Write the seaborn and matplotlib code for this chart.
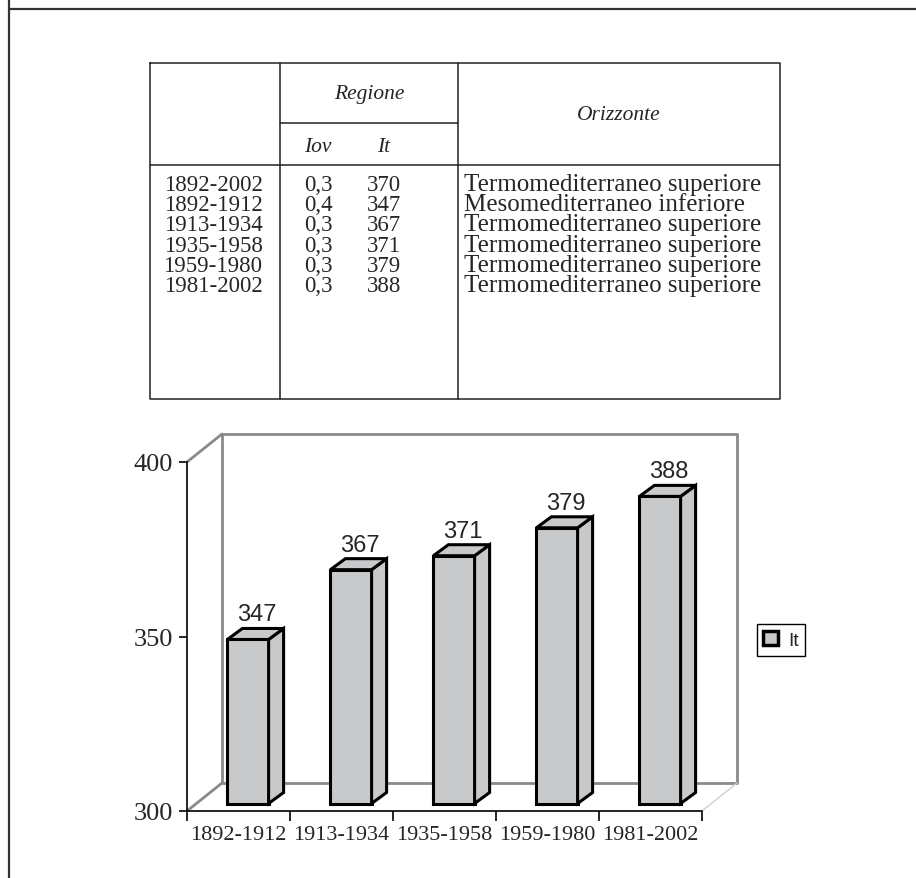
import matplotlib
matplotlib.use("Agg")
import matplotlib.pyplot as plt
import seaborn as sns
import pandas as pd
import numpy as np
from matplotlib.patches import Polygon, Patch
from matplotlib.lines import Line2D
from matplotlib.transforms import IdentityTransform, ScaledTranslation

# ---------------- data ----------------
table_periods = ["1892-2002", "1892-1912", "1913-1934", "1935-1958", "1959-1980", "1981-2002"]
table_iov = ["0,3", "0,4", "0,3", "0,3", "0,3", "0,3"]
table_it = [370, 347, 367, 371, 379, 388]
table_orizzonte = ["Termomediterraneo superiore", "Mesomediterraneo inferiore",
                   "Termomediterraneo superiore", "Termomediterraneo superiore",
                   "Termomediterraneo superiore", "Termomediterraneo superiore"]
header_group = "Regione"
header_cols = ["Iov", "It"]
header_oriz = "Orizzonte"

chart_periods = ["1892-1912", "1913-1934", "1935-1958", "1959-1980", "1981-2002"]
chart_it = [347, 367, 371, 379, 388]
y_ticks = [300, 350, 400]
series_label = "It"

# ---------------- style ----------------
sns.set_style("white")
plt.rcParams["font.family"] = ["Liberation Serif", "DejaVu Serif"]
SANS = ["Liberation Sans", "DejaVu Sans"]
BAR = "#C8C9CB"
WALL = "#8A8A8A"
LINE = "#222222"

W, H = 916, 879
fig = plt.figure(figsize=(W / 100, H / 100), dpi=100)

# overlay in pixel coordinates for the page frame and the table
ov = fig.add_axes([0, 0, 1, 1])
ov.set_xlim(0, W)
ov.set_ylim(H, 0)
ov.axis("off")
ov.set_zorder(1)

ov.plot([9, 9], [0, H], color="#333333", lw=1.6, clip_on=False)
ov.plot([9, W], [10, 10], color="#333333", lw=1.6, clip_on=False)

# table grid
tl, tr, tt, tb = 150, 780, 64, 400
c1, c2 = 280, 458
lw_t = 1.1
ov.plot([tl, tr, tr, tl, tl], [tt, tt, tb, tb, tt], color=LINE, lw=lw_t)
ov.plot([c1, c1], [tt, tb], color=LINE, lw=lw_t)
ov.plot([c2, c2], [tt, tb], color=LINE, lw=lw_t)
ov.plot([c1, c2], [124, 124], color=LINE, lw=lw_t)
ov.plot([tl, tr], [166, 166], color=LINE, lw=lw_t)

fs_h = 15.5
fs_t = 16.5
fs_o = 18
ov.text((c1 + c2) / 2, 94, header_group, style="italic", ha="center", va="center", fontsize=fs_h)
ov.text(619, 116, header_oriz, style="italic", ha="center", va="center", fontsize=fs_h)
ov.text(318, 147, header_cols[0], style="italic", ha="center", va="center", fontsize=fs_h)
ov.text(384, 147, header_cols[1], style="italic", ha="center", va="center", fontsize=fs_h)
for i, (p, iv, it, oz) in enumerate(zip(table_periods, table_iov, table_it, table_orizzonte)):
    y = 191 + i * 20.2
    ov.text(213, y, p, ha="center", va="baseline", fontsize=fs_t)
    ov.text(318, y, iv, ha="center", va="baseline", fontsize=fs_t)
    ov.text(384, y, str(it), ha="center", va="baseline", fontsize=fs_t)
    ov.text(464, y, oz, ha="left", va="baseline", fontsize=fs_o)

# ---------------- 3D-like bar chart ----------------
ax = fig.add_axes([187 / W, 1 - 812 / H, 515 / W, 349 / H])
ax.set_zorder(2)
ax.patch.set_visible(False)

df = pd.DataFrame({"Periodo": chart_periods, "It": chart_it})
sns.barplot(data=df, x="Periodo", y="It", color=BAR, saturation=1, width=0.4,
            edgecolor="black", linewidth=2.2, ax=ax, zorder=3)
ax.set_xlim(-0.5, 4.5)
ax.set_ylim(y_ticks[0], y_ticks[-1])

DX, DY = 35, 28          # depth of the plot box (pixels)
FX, FY = 9.5, 7.5        # bar front-face offset
BX, BY = 15, 11          # bar depth
off = ScaledTranslation(FX / 100, FY / 100, fig.dpi_scale_trans)
base = y_ticks[0]
for p in ax.patches:
    v = p.get_height()
    p.set_y(base)
    p.set_height(v - base)
    p.set_transform(ax.transData + off)
    p.set_clip_on(False)
    p.set_joinstyle("miter")

ident = IdentityTransform()

def disp(x, y):
    return ax.transData.transform((x, y))

# back wall and floor (gray)
x0, x1 = -0.5, 4.5
y0, y1 = y_ticks[0], y_ticks[-1]
fl0, tl0 = disp(x0, y0), disp(x0, y1)
fr0, tr0 = disp(x1, y0), disp(x1, y1)
d = np.array([DX, DY])
wall = [(tl0 + d), (tr0 + d), (fr0 + d), (fl0 + d), (tl0 + d)]
ax.add_line(Line2D([q[0] for q in wall], [q[1] for q in wall], color=WALL, lw=2.0,
                   transform=ident, clip_on=False, zorder=1))
for a in (tl0, fl0):
    b = a + d
    ax.add_line(Line2D([a[0], b[0]], [a[1], b[1]], color=WALL, lw=2.0,
                       transform=ident, clip_on=False, zorder=1))
b = fr0 + d
ax.add_line(Line2D([fr0[0], b[0]], [fr0[1], b[1]], color="#D0D0D0", lw=1.0,
                   transform=ident, clip_on=False, zorder=1))

# side and top faces of bars
for p, v in zip(ax.patches, chart_it):
    xl = p.get_x()
    xr = xl + p.get_width()
    br = disp(xr, base) + [FX, FY]
    tlp = disp(xl, v) + [FX, FY]
    trp = disp(xr, v) + [FX, FY]
    dd = np.array([BX, BY])
    side = Polygon([br, br + dd, trp + dd, trp], closed=True, facecolor=BAR,
                   edgecolor="black", lw=2.2, transform=ident, clip_on=False,
                   zorder=3, joinstyle="miter")
    top = Polygon([tlp, trp, trp + dd, tlp + dd], closed=True, facecolor=BAR,
                  edgecolor="black", lw=2.2, transform=ident, clip_on=False,
                  zorder=3, joinstyle="miter")
    ax.add_patch(side)
    ax.add_patch(top)

# value labels
for i, v in enumerate(chart_it):
    ax.annotate(str(v), xy=(i, v), xytext=(FX + BX / 2 + 1, FY + BY + 3),
                textcoords="offset pixels", ha="center", va="bottom",
                fontsize=17, family=SANS, zorder=4)

# axes styling
for s in ("top", "right"):
    ax.spines[s].set_visible(False)
for s in ("left", "bottom"):
    ax.spines[s].set_color("black")
    ax.spines[s].set_linewidth(1.2)
    ax.spines[s].set_zorder(2)

ax.set_yticks(y_ticks)
ax.set_yticklabels([str(t) for t in y_ticks])
ax.tick_params(axis="y", direction="out", length=6, width=1.2, color="black",
               pad=4, labelsize=19, left=True)
ax.set_xticks(range(len(chart_periods)))
ax.set_xticklabels(chart_periods)
ax.set_xticks(np.arange(-0.5, len(chart_periods), 1), minor=True)
ax.tick_params(axis="x", which="major", length=0, pad=10, labelsize=16)
ax.tick_params(axis="x", which="minor", direction="out", length=7, width=1.2,
               color="black", bottom=True)
ax.set_xlabel("")
ax.set_ylabel("")

# legend
handle = Patch(facecolor=BAR, edgecolor="black", linewidth=2.5)
leg = ax.legend([handle], [series_label], loc="center",
                bbox_to_anchor=(781 / W, 1 - 641 / H), bbox_transform=fig.transFigure,
                fancybox=False, frameon=True, edgecolor="black", framealpha=1,
                handlelength=0.75, handleheight=0.75, handletextpad=0.5,
                borderpad=0.35, borderaxespad=0, prop={"family": SANS, "size": 14})
leg.get_frame().set_linewidth(1.0)

ax.set_xlim(-0.5, 4.5)
ax.set_ylim(y_ticks[0], y_ticks[-1])

fig.savefig("out.png", dpi=100)
